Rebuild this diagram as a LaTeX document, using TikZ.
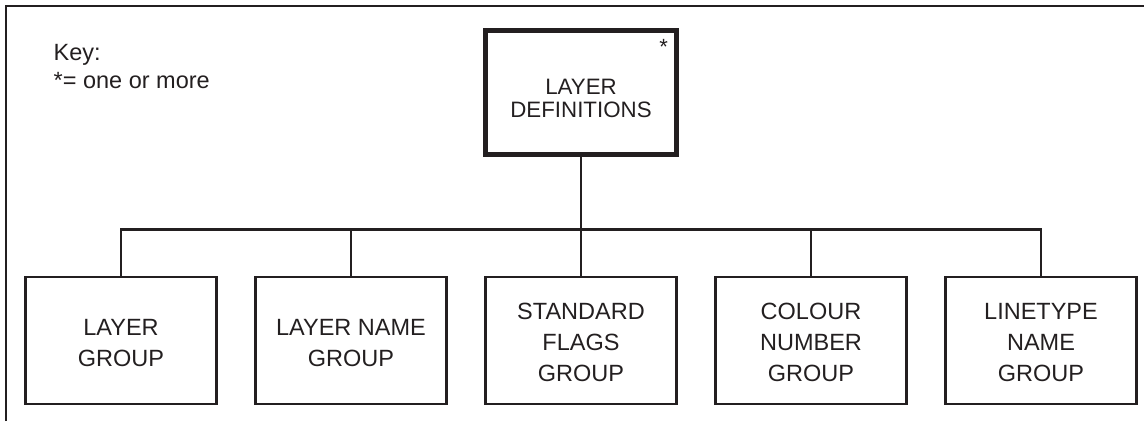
\documentclass[tikz,border=0pt]{standalone}
\usepackage{fontspec}
\setmainfont{Liberation Sans}
\definecolor{ink}{HTML}{231F20}
\newcommand\rootlift{\rule{0pt}{27.8pt}}
\newcommand\childlift{\rule{0pt}{21pt}}
\begin{document}
\begin{tikzpicture}[x=1pt,y=-1pt,
  every node/.style={text=ink},
  childbox/.style={draw=ink, line width=2.5pt, minimum width=191.4pt, minimum height=127pt,
    inner sep=0pt, align=center, font=\fontsize{23.5}{31}\selectfont},
  rootbox/.style={draw=ink, line width=5pt, minimum width=191.7pt, minimum height=123.4pt,
    inner sep=0pt, align=center, font=\fontsize{22.3}{22.8}\selectfont},
  link/.style={draw=ink, line width=2.5pt},
  keytext/.style={font=\fontsize{23.5}{28}\selectfont, anchor=base west, inner sep=0pt}]
\useasboundingbox (0,0) rectangle (1144,421);
% frame
\draw[ink, line width=2.5pt] (6.2,421) -- (6.2,6.2) -- (1144,6.2);
% key
\node[keytext] (key) at (53.5,60.5) {Key:};
\node[keytext] (keydef) at (53.5,88) {*= one or more};
% root
\node[rootbox] (root) at (581,92.5) {\rootlift LAYER\\DEFINITIONS};
\node[font=\fontsize{22}{22}\selectfont, inner sep=0pt] (star) at (663.7,46.7) {*};
% children
\node[childbox] (c1) at (121,340.5) {\childlift LAYER\\GROUP};
\node[childbox] (c2) at (351,340.5) {\childlift LAYER NAME\\GROUP};
\node[childbox] (c3) at (581,340.5) {\childlift STANDARD\\FLAGS\\GROUP};
\node[childbox] (c4) at (811,340.5) {\childlift COLOUR\\NUMBER\\GROUP};
\node[childbox] (c5) at (1041,340.5) {\childlift LINETYPE\\NAME\\GROUP};
% connectors
\coordinate (bus) at (581,229.3);
\draw[link] (root.south) -- (bus);
\draw[link] (c1.north) -- (c1.north |- bus) -- (c5.north |- bus) -- (c5.north);
\draw[link] (c2.north) -- (c2.north |- bus);
\draw[link] (c3.north) -- (c3.north |- bus);
\draw[link] (c4.north) -- (c4.north |- bus);
\end{tikzpicture}
\end{document}
